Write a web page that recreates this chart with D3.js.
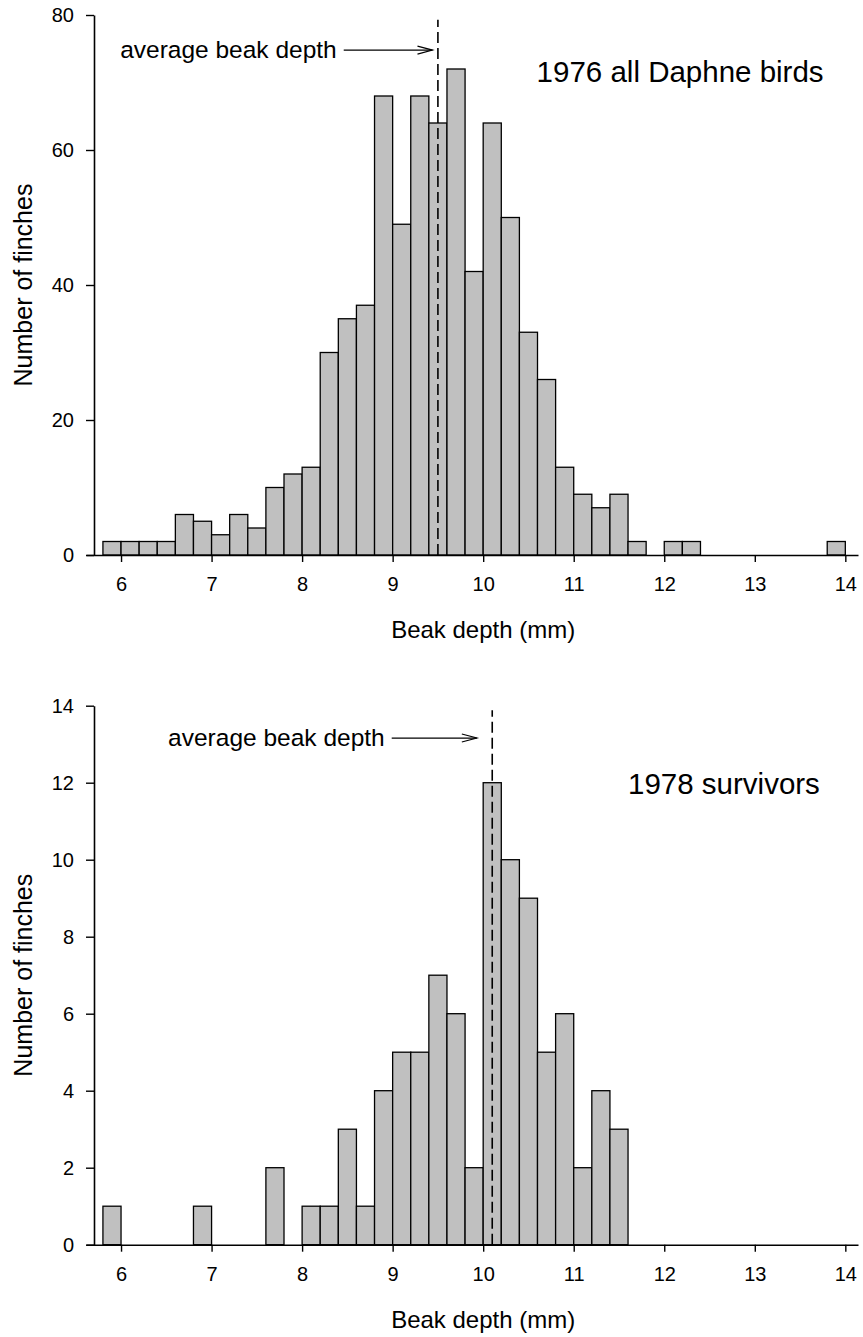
<!DOCTYPE html>
<html>
<head>
<meta charset="utf-8">
<script src="https://cdnjs.cloudflare.com/ajax/libs/d3/7.8.5/d3.min.js"></script>
<style>
  body { margin: 0; background: #fff; }
  svg text { font-family: "Liberation Sans", Arial, Helvetica, sans-serif; fill: #000; }
</style>
</head>
<body>
<div id="chart"></div>
<script>
// lower edge of each 0.2 mm bin
const binLefts = [5.8, 6.0, 6.2, 6.4, 6.6, 6.8, 7.0, 7.2, 7.4, 7.6,
  7.8, 8.0, 8.2, 8.4, 8.6, 8.8, 9.0, 9.2, 9.4, 9.6,
  9.8, 10.0, 10.2, 10.4, 10.6, 10.8, 11.0, 11.2, 11.4, 11.6,
  11.8, 12.0, 12.2, 12.4, 12.6, 12.8, 13.0, 13.2, 13.4, 13.6, 13.8];
const binWidth = 0.2;

// number of finches per bin
const counts1976 = [2, 2, 2, 2, 6, 5, 3, 6, 4, 10,
  12, 13, 30, 35, 37, 68, 49, 68, 64, 72,
  42, 64, 50, 33, 26, 13, 9, 7, 9, 2,
  0, 2, 2, 0, 0, 0, 0, 0, 0, 0, 2];
const counts1978 = [1, 0, 0, 0, 0, 1, 0, 0, 0, 2,
  0, 1, 1, 3, 1, 4, 5, 5, 7, 6,
  2, 12, 10, 9, 5, 6, 2, 4, 3, 0,
  0, 0, 0, 0, 0, 0, 0, 0, 0, 0, 0];

const xTicks = [6, 7, 8, 9, 10, 11, 12, 13, 14];
const yTicks1976 = [0, 20, 40, 60, 80];
const yTicks1978 = [0, 2, 4, 6, 8, 10, 12, 14];

const mean1976 = 9.5;
const mean1978 = 10.1;

const W = 863, H = 1337;

const svg = d3.select("#chart").append("svg")
  .attr("width", W)
  .attr("height", H);

// shared x scale (axis line runs a bit past the outer ticks)
const x = d3.scaleLinear()
  .domain([5.613, 14.14])
  .range([86, 858]);

function drawPanel(opts) {
  const g = svg.append("g");
  const y = d3.scaleLinear()
    .domain([0, opts.yMax])
    .range([opts.bottom, opts.top]);

  const data = binLefts.map((b, i) => ({ x0: b, x1: b + binWidth, n: opts.counts[i] }))
    .filter(d => d.n > 0);

  // bars
  g.selectAll("rect")
    .data(data)
    .enter()
    .append("rect")
    .attr("x", d => x(d.x0))
    .attr("width", d => x(d.x1) - x(d.x0))
    .attr("y", d => y(d.n))
    .attr("height", d => y(0) - y(d.n))
    .attr("fill", "#c0c0c0")
    .attr("stroke", "#000")
    .attr("stroke-width", 1.3);

  // x axis
  const xAxis = g.append("g")
    .attr("transform", `translate(0,${opts.bottom})`)
    .call(d3.axisBottom(x).tickValues(xTicks).tickSizeInner(7).tickSizeOuter(0).tickPadding(15).tickFormat(d3.format("d")));
  xAxis.select(".domain").attr("stroke-width", 1.6);
  xAxis.selectAll(".tick line").attr("stroke-width", 1.4);
  xAxis.selectAll("text").style("font-size", "20px");

  // y axis
  const yAxis = g.append("g")
    .attr("transform", "translate(94,0)")
    .call(d3.axisLeft(y).tickValues(opts.yTicks).tickSizeInner(8).tickSizeOuter(0).tickPadding(12));
  yAxis.select(".domain").attr("stroke-width", 1.6);
  yAxis.selectAll(".tick line").attr("stroke-width", 1.4);
  yAxis.selectAll("text").style("font-size", "20px");

  // axis titles
  g.append("text")
    .attr("x", x(10))
    .attr("y", opts.bottom + 83)
    .attr("text-anchor", "middle")
    .style("font-size", "24px")
    .text("Beak depth (mm)");

  g.append("text")
    .attr("transform", `translate(32,${(opts.top + opts.bottom) / 2}) rotate(-90)`)
    .attr("text-anchor", "middle")
    .style("font-size", "25px")
    .text("Number of finches");

  // mean line
  g.append("line")
    .attr("x1", x(opts.mean)).attr("x2", x(opts.mean))
    .attr("y1", opts.bottom).attr("y2", y(opts.meanTop))
    .attr("stroke", "#000")
    .attr("stroke-width", 1.6)
    .attr("stroke-dasharray", "11,5");

  // annotation with arrow
  const ay = y(opts.arrowY);
  const label = g.append("text")
    .attr("x", x(opts.textX))
    .attr("y", ay + 8)
    .style("font-size", "24.5px")
    .text("average beak depth");
  const ax0 = x(opts.textX) + label.node().getComputedTextLength() + 7;
  const ax1 = x(opts.arrowTo);
  g.append("line")
    .attr("x1", ax0).attr("x2", ax1)
    .attr("y1", ay).attr("y2", ay)
    .attr("stroke", "#000").attr("stroke-width", 1.2);
  g.append("path")
    .attr("d", `M${ax1 - 15},${ay - 4}L${ax1},${ay}L${ax1 - 15},${ay + 4}`)
    .attr("fill", "none")
    .attr("stroke", "#000").attr("stroke-width", 1.2);

  // panel label
  g.append("text")
    .attr("x", x(opts.labelX))
    .attr("y", opts.labelY)
    .style("font-size", "29.5px")
    .text(opts.label);
}

drawPanel({
  counts: counts1976, yMax: 80, yTicks: yTicks1976,
  top: 15, bottom: 555,
  mean: mean1976, meanTop: 79.3,
  arrowY: 74.8, textX: 5.99, arrowTo: 9.44,
  label: "1976 all Daphne birds", labelX: 10.59, labelY: 82
});

drawPanel({
  counts: counts1978, yMax: 14, yTicks: yTicks1978,
  top: 705.7, bottom: 1244.7,
  mean: mean1978, meanTop: 13.88,
  arrowY: 13.16, textX: 6.52, arrowTo: 9.93,
  label: "1978 survivors", labelX: 11.6, labelY: 794
});
</script>
</body>
</html>
